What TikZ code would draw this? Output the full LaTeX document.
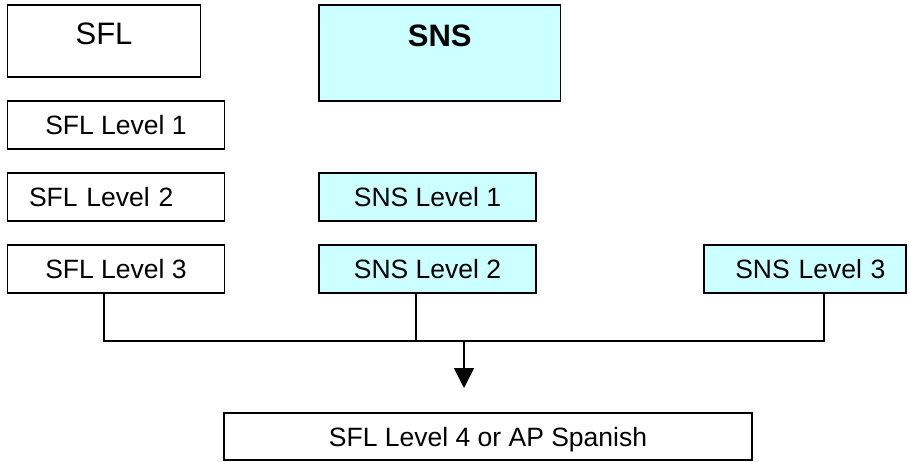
\documentclass[tikz,border=0pt]{standalone}
\usepackage{fontspec}
\setmainfont{Liberation Sans}
\usetikzlibrary{arrows.meta}
\definecolor{snscyan}{HTML}{CCFFFF}
\begin{document}
\begin{tikzpicture}[x=1pt,y=-1pt,
  box/.style={draw=black, line width=1.6pt, fill=white, inner sep=0pt, minimum height=48pt, minimum width=217pt, text depth=0pt, font=\fontsize{26.5}{30}\selectfont},
  snsbox/.style={box, fill=snscyan},
  titlefont/.style={font=\fontsize{31}{34}\selectfont},
  conn/.style={draw=black, line width=1.6pt},
  arrowline/.style={conn, -{Triangle[width=20pt,length=20pt]}}
]
\useasboundingbox (0,0) rectangle (909,461);

% title boxes
\node[box, minimum width=193pt, minimum height=72pt,
  label={[titlefont, anchor=north, inner sep=0pt, yshift=-18.3pt, text depth=0pt]north:SFL}] (sfl) at (104,41) {};
\node[snsbox, minimum width=241.5pt, minimum height=96pt,
  label={[titlefont, anchor=north, inner sep=0pt, yshift=-20pt, text depth=0pt]north:\textbf{SNS}}] (sns) at (439.75,53) {};

% level boxes
\node[box] (sfl1) at (116,125) {SFL Level 1};
\node[box, align=left, text width=174pt, inner xsep=21.5pt] (sfl2) at (116,197) {SFL Level 2};
\node[box] (sfl3) at (116,269) {SFL Level 3};
\node[snsbox] (sns1) at (427.5,197) {SNS Level 1};
\node[snsbox] (sns2) at (427.5,269) {SNS Level 2};
\node[snsbox, minimum width=202pt, align=right, text width=161pt, inner xsep=20.5pt] (sns3) at (805,269) {SNS Level 3};

% final box
\node[box, minimum width=528pt, minimum height=47pt] (final) at (488,436.5) {SFL Level 4 or AP Spanish};

% connectors
\coordinate (bus) at (464,341);
\coordinate (tip) at (464,388);
\draw[conn] ([xshift=-12pt]sfl3.south) |- (bus) -| ([xshift=19pt]sns3.south);
\draw[conn] ([xshift=-11.5pt]sns2.south) -- ([xshift=-11.5pt]sns2.south |- bus);
\draw[arrowline] (bus) -- (tip);
\end{tikzpicture}
\end{document}
